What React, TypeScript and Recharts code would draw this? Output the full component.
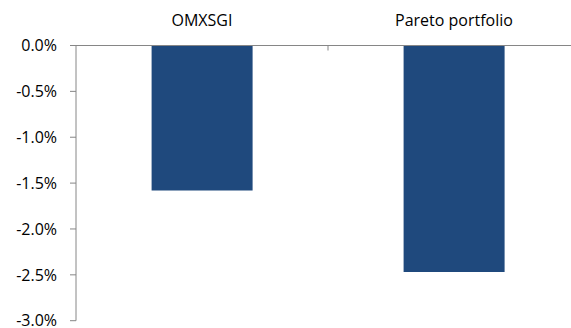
import { BarChart, Bar, XAxis, YAxis } from "recharts";

const categories = ["OMXSGI", "Pareto portfolio"];
const returns = [-1.58, -2.47];
const yTicks = [0, -0.5, -1, -1.5, -2, -2.5, -3];

const data = categories.map((name, i) => ({ name, value: returns[i] }));

const FONT = "'Open Sans', sans-serif";
const AXIS = "#868686";

function TopTick(props: any) {
  const { x, y, payload, index } = props;
  const half = payload?.offset ?? 0;
  return (
    <g>
      <text
        x={x}
        y={y - 12}
        textAnchor="middle"
        fill="#000"
        fontSize={16}
        fontFamily={FONT}
      >
        {payload.value}
      </text>
      {index > 0 && (
        <line x1={x - half} x2={x - half} y1={45.5} y2={50.5} stroke={AXIS} />
      )}
    </g>
  );
}

export default function App() {
  return (
    <div
      style={{
        position: "absolute",
        left: 0,
        top: 0,
        width: 571,
        height: 328,
        overflow: "hidden",
        background: "#fff",
      }}
    >
      <BarChart
        width={580}
        height={328}
        data={data}
        margin={{ top: 15.5, right: 0, bottom: 7.3, left: 0 }}
        barCategoryGap="30%"
      >
        <XAxis
          dataKey="name"
          orientation="top"
          height={30}
          axisLine={{ stroke: AXIS }}
          tickLine={false}
          tick={<TopTick />}
          interval={0}
        />
        <YAxis
          width={76}
          domain={[-3, 0]}
          ticks={yTicks}
          interval={0}
          tickFormatter={(v: number) => v.toFixed(1) + "%"}
          axisLine={{ stroke: AXIS }}
          tickLine={{ stroke: AXIS }}
          tickSize={6}
          tickMargin={13}
          tick={{ fill: "#000", fontSize: 16, fontFamily: FONT }}
        />
        <Bar dataKey="value" fill="#1F497D" isAnimationActive={false} />
      </BarChart>
    </div>
  );
}
